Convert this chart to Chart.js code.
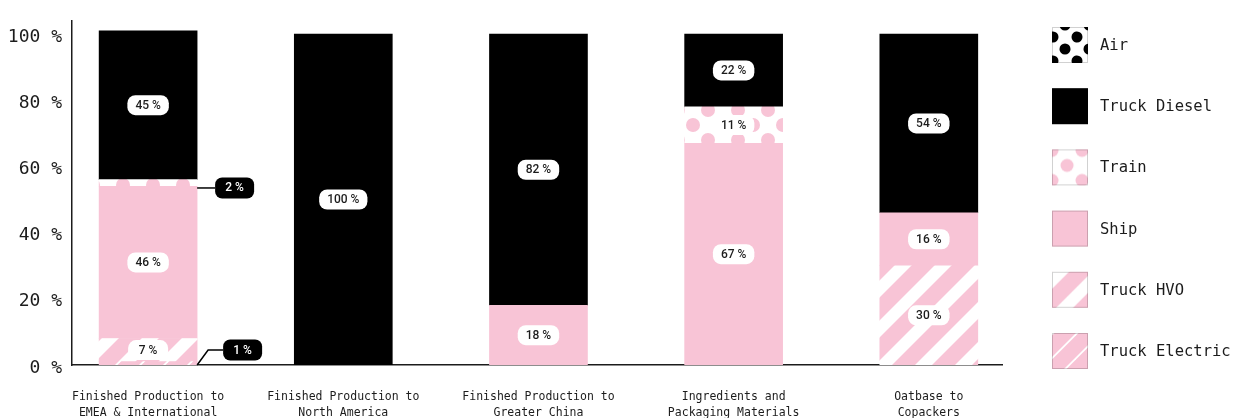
<!DOCTYPE html>
<html>
<head>
<meta charset="utf-8">
<script src="https://cdn.jsdelivr.net/npm/chart.js@4"></script>
<style>
  html, body { margin: 0; padding: 0; background: #ffffff; }
  #wrap { width: 1238px; height: 418px; }
</style>
</head>
<body>
<div id="wrap"><canvas id="chart" width="1238" height="418"></canvas></div>
<script>
// Transport mode share per flow (percent of tonne-km)
const categories = [
  ['Finished Production to', 'EMEA & International'],
  ['Finished Production to', 'North America'],
  ['Finished Production to', 'Greater China'],
  ['Ingredients and', 'Packaging Materials'],
  ['Oatbase to', 'Copackers']
];
const truckElectric = [1, 0, 0, 0, 0];
const truckHVO      = [7, 0, 0, 0, 30];
const ship          = [46, 0, 18, 67, 16];
const train         = [2, 0, 0, 11, 0];
const truckDiesel   = [45, 100, 82, 22, 54];
const air           = [0, 0, 0, 0, 0];
const yTicks        = [0, 20, 40, 60, 80, 100];

const PINK = '#f8c4d6';
const INK = '#1c1c1c';

// ---- fill patterns ----
function tile(size, draw) {
  const c = document.createElement('canvas');
  c.width = size; c.height = size;
  draw(c.getContext('2d'), size);
  return c;
}
function dotTile(size, r, ox, oy, fg, bg) {
  return tile(size, (g, s) => {
    g.fillStyle = bg; g.fillRect(0, 0, s, s);
    g.fillStyle = fg;
    const pts = [[ox, oy], [ox + s / 2, oy + s / 2]];
    for (const [px, py] of pts) {
      for (let dx = -s; dx <= s; dx += s) {
        for (let dy = -s; dy <= s; dy += s) {
          g.beginPath(); g.arc(px + dx, py + dy, r, 0, Math.PI * 2); g.fill();
        }
      }
    }
  });
}
function stripeTile(size, w, fg, bg) {
  return tile(size, (g, s) => {
    g.fillStyle = bg; g.fillRect(0, 0, s, s);
    g.fillStyle = fg;
    for (let k = -1; k <= 2; k++) {
      const c = k * s;
      g.beginPath();
      g.moveTo(c, 0); g.lineTo(c + w, 0); g.lineTo(c + w - s, s); g.lineTo(c - s, s);
      g.closePath(); g.fill();
    }
  });
}
const pctx = document.createElement('canvas').getContext('2d');
const pat = t => pctx.createPattern(t, 'repeat');

// bar fills (anchored to the canvas)
const fills = {
  electric: pat(stripeTile(24, 2.5, '#ffffff', PINK)),
  hvo:      pat(stripeTile(40, 17, '#ffffff', PINK)),
  ship:     PINK,
  train:    pat(dotTile(30, 7, 3, 5, PINK, '#ffffff')),
  diesel:   '#000000',
  air:      pat(dotTile(24, 5.5, 1, 10, '#000000', '#ffffff'))
};
// legend swatch fills (anchored to each swatch)
const swatchFills = {
  electric: pat(stripeTile(24, 2.5, '#ffffff', PINK)),
  hvo:      pat(stripeTile(40, 17, '#ffffff', PINK)),
  ship:     PINK,
  train:    pat(dotTile(30, 6.5, 0, 1, PINK, '#ffffff')),
  diesel:   '#000000',
  air:      pat(dotTile(24, 5.5, 1, 10, '#000000', '#ffffff'))
};

function series(label, key, values) {
  return {
    label,
    fillKey: key,
    // an empty share has no segment at all
    data: values.map((v, i) => ({ x: i, y: v === 0 ? null : v })),
    backgroundColor: fills[key],
    borderWidth: 0,
    barThickness: 98
  };
}

// stacked bottom-to-top
const datasets = [
  series('Truck Electric', 'electric', truckElectric),
  series('Truck HVO', 'hvo', truckHVO),
  series('Ship', 'ship', ship),
  series('Train', 'train', train),
  series('Truck Diesel', 'diesel', truckDiesel),
  series('Air', 'air', air)
];

function roundRect(ctx, x, y, w, h, r) {
  ctx.beginPath();
  ctx.moveTo(x + r, y);
  ctx.arcTo(x + w, y, x + w, y + h, r);
  ctx.arcTo(x + w, y + h, x, y + h, r);
  ctx.arcTo(x, y + h, x, y, r);
  ctx.arcTo(x, y, x + w, y, r);
  ctx.closePath();
}

// value pills inside segments, black callouts for thin segments
const valueLabels = {
  id: 'valueLabels',
  afterDatasetsDraw(chart) {
    const ctx = chart.ctx;
    const bottom = chart.chartArea.bottom;
    ctx.save();
    ctx.textAlign = 'center';
    ctx.textBaseline = 'middle';
    chart.data.datasets.forEach((ds, di) => {
      const meta = chart.getDatasetMeta(di);
      meta.data.forEach((bar, i) => {
        const v = ds.data[i].y;
        if (!v) return;
        const p = bar.getProps(['x', 'y', 'base', 'width'], true);
        const mid = (p.y + p.base) / 2;
        const text = v + ' %';
        ctx.font = '500 12px Roboto, "DejaVu Sans", sans-serif';
        const tw = ctx.measureText(text).width;
        if (Math.abs(p.base - p.y) >= 20) {
          const w = Math.max(40, tw + 16), h = 20;
          ctx.fillStyle = '#ffffff';
          roundRect(ctx, p.x - w / 2, mid - h / 2, w, h, 8);
          ctx.fill();
          ctx.fillStyle = INK;
          ctx.fillText(text, p.x, mid + 0.5);
        } else {
          const right = p.x + p.width / 2;
          const w = 39, h = 21;
          let bx, cy;
          ctx.strokeStyle = '#000000';
          ctx.lineWidth = 1.5;
          ctx.beginPath();
          if (p.base >= bottom - 0.5) {
            cy = p.base - 15;
            bx = right + 26;
            ctx.moveTo(right, p.base);
            ctx.lineTo(right + 11, cy);
            ctx.lineTo(bx, cy);
          } else {
            cy = mid + 5;
            bx = right + 18;
            ctx.moveTo(right, cy);
            ctx.lineTo(bx, cy);
          }
          ctx.stroke();
          ctx.fillStyle = '#000000';
          roundRect(ctx, bx, cy - h / 2, w, h, 7);
          ctx.fill();
          ctx.fillStyle = '#ffffff';
          ctx.fillText(text, bx + w / 2, cy + 0.5);
        }
      });
    });
    ctx.restore();
  }
};

// vertical legend on the right, top entry = top of the stack
const sideLegend = {
  id: 'sideLegend',
  afterDraw(chart) {
    const ctx = chart.ctx;
    const items = chart.data.datasets.slice().reverse();
    const x0 = 1052, y0 = 27, size = 36, step = 61.2;
    ctx.save();
    items.forEach((ds, k) => {
      const y = y0 + k * step;
      ctx.save();
      ctx.translate(x0, y);
      ctx.fillStyle = swatchFills[ds.fillKey];
      ctx.fillRect(0, 0, size, size);
      ctx.strokeStyle = 'rgba(0,0,0,0.18)';
      ctx.lineWidth = 1;
      ctx.strokeRect(0.5, 0.5, size - 1, size - 1);
      ctx.restore();
      ctx.fillStyle = INK;
      ctx.font = '15.5px "DejaVu Sans Mono", monospace';
      ctx.textAlign = 'left';
      ctx.textBaseline = 'middle';
      ctx.fillText(ds.label, 1100, y + size / 2 + 1);
    });
    ctx.restore();
  }
};

const Y_MAX = 104;
const PX_PER_PCT = 3.34;

new Chart(document.getElementById('chart'), {
  type: 'bar',
  data: { datasets },
  plugins: [valueLabels, sideLegend],
  options: {
    responsive: false,
    animation: false,
    devicePixelRatio: 1,
    layout: { padding: { left: 0, right: 236, top: 365 - Y_MAX * PX_PER_PCT, bottom: 0 } },
    plugins: { legend: { display: false }, tooltip: { enabled: false } },
    scales: {
      x: {
        type: 'linear',
        stacked: true,
        offset: false,
        min: -0.39,
        max: 4.375,
        grid: { display: false, drawTicks: false },
        border: { display: true, color: INK, width: 1.5 },
        afterBuildTicks: s => { s.ticks = categories.map((_, i) => ({ value: i })); },
        afterFit: s => { s.height = 53; },
        ticks: {
          autoSkip: false,
          maxRotation: 0,
          padding: 24,
          color: INK,
          font: { family: '"DejaVu Sans Mono", monospace', size: 11.5, lineHeight: '16px' },
          callback: v => categories[v]
        }
      },
      y: {
        stacked: true,
        min: 0,
        max: Y_MAX,
        grid: { display: false, drawTicks: false },
        border: { display: true, color: INK, width: 1.5 },
        afterBuildTicks: s => { s.ticks = yTicks.map(v => ({ value: v })); },
        afterFit: s => { s.width = 72; },
        ticks: {
          padding: 10,
          labelOffset: 3,
          color: INK,
          font: { family: '"DejaVu Sans Mono", monospace', size: 18 },
          callback: v => v + ' %'
        }
      }
    }
  }
});
</script>
</body>
</html>
